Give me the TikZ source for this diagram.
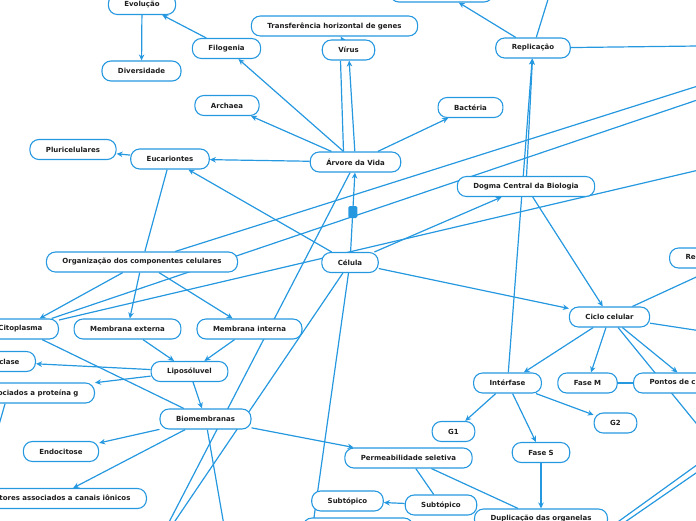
\documentclass[tikz,border=0pt]{standalone}
\usepackage{fontspec}
\setmainfont{DejaVu Sans}
\usetikzlibrary{arrows.meta,backgrounds}
\definecolor{mapblue}{RGB}{38,152,224}
\definecolor{maptext}{RGB}{30,30,30}

\begin{document}
\begin{tikzpicture}[
  x=1pt, y=-1pt,
  font=\fontsize{7}{8}\selectfont\bfseries,
  >={Stealth[length=6pt,width=5.5pt]},
  topic/.style={draw=mapblue, line width=1.1pt, fill=white, text=maptext,
                rounded corners=9pt, minimum height=20pt,
                inner xsep=16pt, inner ysep=2pt},
  link/.style={mapblue, line width=1.2pt},
  rel/.style={link, ->},
  marker/.style={fill=mapblue, rounded corners=1.5pt, inner sep=0pt,
                 minimum width=9pt, minimum height=12pt},
]
\useasboundingbox (0,0) rectangle (696,520);
\clip (0,0) rectangle (696,520);

% topics
\node[topic] (EV) at (142,4.5) {Evolução};
\node[topic] (DI) at (141.5,71) {Diversidade};
\node[topic] (FI) at (226.5,48.5) {Filogenia};
\node[topic] (TH) at (334.5,26) {Transferência horizontal de genes};
\node[topic] (VI) at (348.5,50) {Vírus};
\node[topic, minimum width=103pt] (UP) at (441.5,-8) {};
\node[topic] (RE) at (533,48) {Replicação};
\node[topic] (AR) at (227,105.5) {Archaea};
\node[topic] (BA) at (470.5,107.5) {Bactéria};
\node[topic] (PL) at (73,149.5) {Pluricelulares};
\node[topic] (EU) at (170,159) {Eucariontes};
\node[topic] (AV) at (355.5,162) {Árvore da Vida};
\node[topic] (DC) at (526,186.5) {Dogma Central da Biologia};
\node[topic] (OC) at (142,262) {Organização dos componentes celulares};
\node[topic] (CE) at (350,262.5) {Célula};
\node[topic, anchor=east] (CI) at (59,329) {Citoplasma};
\node[topic] (ME) at (127.5,329) {Membrana externa};
\node[topic] (MI) at (249.5,329) {Membrana interna};
\node[topic] (CC) at (609.5,317) {Ciclo celular};
\node[topic, anchor=west, text width=104pt] (RG) at (669,258) {Regulação};
\node[topic] (LI) at (189.5,371.5) {Liposóluvel};
\node[topic, anchor=east] (AC) at (36,361.5) {Adenilil ciclase};
\node[topic, anchor=east] (PG) at (95,393) {Receptores associados a proteína g};
\node[topic] (BM) at (205.5,419) {Biomembranas};
\node[topic] (EN) at (61,451.5) {Endocitose};
\node[topic, anchor=east] (CN) at (147,498.5) {Receptores associados a canais iônicos};
\node[topic] (PS) at (408.5,458) {Permeabilidade seletiva};
\node[topic] (IN) at (507.5,383) {Intérfase};
\node[topic] (FM) at (587.5,383) {Fase M};
\node[topic, anchor=west] (PC) at (633,383) {Pontos de checagem};
\node[topic] (G1) at (453.5,431.5) {G1};
\node[topic] (G2) at (615.5,423) {G2};
\node[topic] (FS) at (541,452.5) {Fase S};
\node[topic] (SA) at (347.5,501) {Subtópico};
\node[topic] (SB) at (441,505) {Subtópico};
\node[topic] (DO) at (541,519) {Duplicação das organelas};
\node[topic, minimum width=110pt] (B1) at (358,528) {};
\node[marker] (SQ) at (352.8,212) {};

% ends outside the frame
\coordinate (offA) at (780,60);
\coordinate (offB) at (780,72);
\coordinate (offC) at (780,151);
\coordinate (offR1) at (554,-20);
\coordinate (offR2) at (780,45);
\coordinate (offO) at (152,555);
\coordinate (offBM) at (230,560);
\coordinate (offCE) at (308,560);
\coordinate (offCC1) at (780,343);
\coordinate (offCC2) at (740,477);
\coordinate (offPG) at (-14,470);
\coordinate (offD1) at (565,560);
\coordinate (offD2) at (780,405);
\coordinate (offD3) at (570,560);
\coordinate (offD4) at (780,415);

\begin{scope}[on background layer]
\clip (0,0) rectangle (696,520);
\draw[rel] (FI) -- (EV);
\draw[rel] (EV) -- (DI);
\draw[rel] (AV) -- (FI);
\draw[rel] (AV) -- (AR);
\draw[rel] (AV) -- (VI);
\draw[link] ([xshift=-8pt]VI.south) -- ([xshift=-12pt]AV.north);
\draw[rel] (VI) -- (TH);
\draw[rel] (AV) -- (BA);
\draw[rel] (AV) -- (EU);
\draw[rel] (EU) -- (PL);
\draw[link] (EU) -- (OC);
\draw[rel] (CE) -- (EU);
\draw[rel] (CE) -- (AV);
\draw[link] (AV) -- (offO);
\draw[link] (CE) -- (offO);
\draw[link] (OC) -- (offA);
\draw[link] (CI) -- (offB);
\draw[link] (CI) -- (offC);
\draw[rel] (OC) -- (CI);
\draw[rel] (OC) -- (ME);
\draw[rel] (OC) -- (MI);
\draw[link] (CI) -- (BM);
\draw[rel] (ME) -- (LI);
\draw[rel] (MI) -- (LI);
\draw[rel] (LI) -- (AC);
\draw[rel] (LI) -- (PG);
\draw[rel] (LI) -- (BM);
\draw[link] (PG) -- (offPG);
\draw[rel] (BM) -- (EN);
\draw[rel] (BM) -- (CN);
\draw[rel] (BM) -- (PS);
\draw[link] (BM) -- (offBM);
\draw[link] (CE) -- (offCE);
\draw[rel] (CE) -- (DC);
\draw[rel] (CE) -- (CC);
\draw[rel] (DC) -- (RE);
\draw[rel] (IN) -- (RE);
\draw[rel] (DC) -- (CC);
\draw[rel] (RE) -- (UP);
\draw[link] (RE) -- (offR1);
\draw[link] (RE) -- (offR2);
\draw[link] (CC) -- (RG);
\draw[link] (CC) -- (offCC1);
\draw[link] (CC) -- (offCC2);
\draw[rel] (CC) -- (IN);
\draw[rel] (CC) -- (FM);
\draw[rel] (CC) -- (PC);
\draw[link] (FM) -- (PC);
\draw[rel] (IN) -- (G1);
\draw[rel] (IN) -- (FS);
\draw[rel] (IN) -- (G2);
\draw[rel] (FS) -- (DO);
\draw[link] (PS) -- (DO);
\draw[link] (PS) -- (SB);
\draw[rel] (SB) -- (SA);
\draw[link] (offD1) -- (offD2);
\draw[link] (offD3) -- (offD4);
\end{scope}

\end{tikzpicture}
\end{document}
